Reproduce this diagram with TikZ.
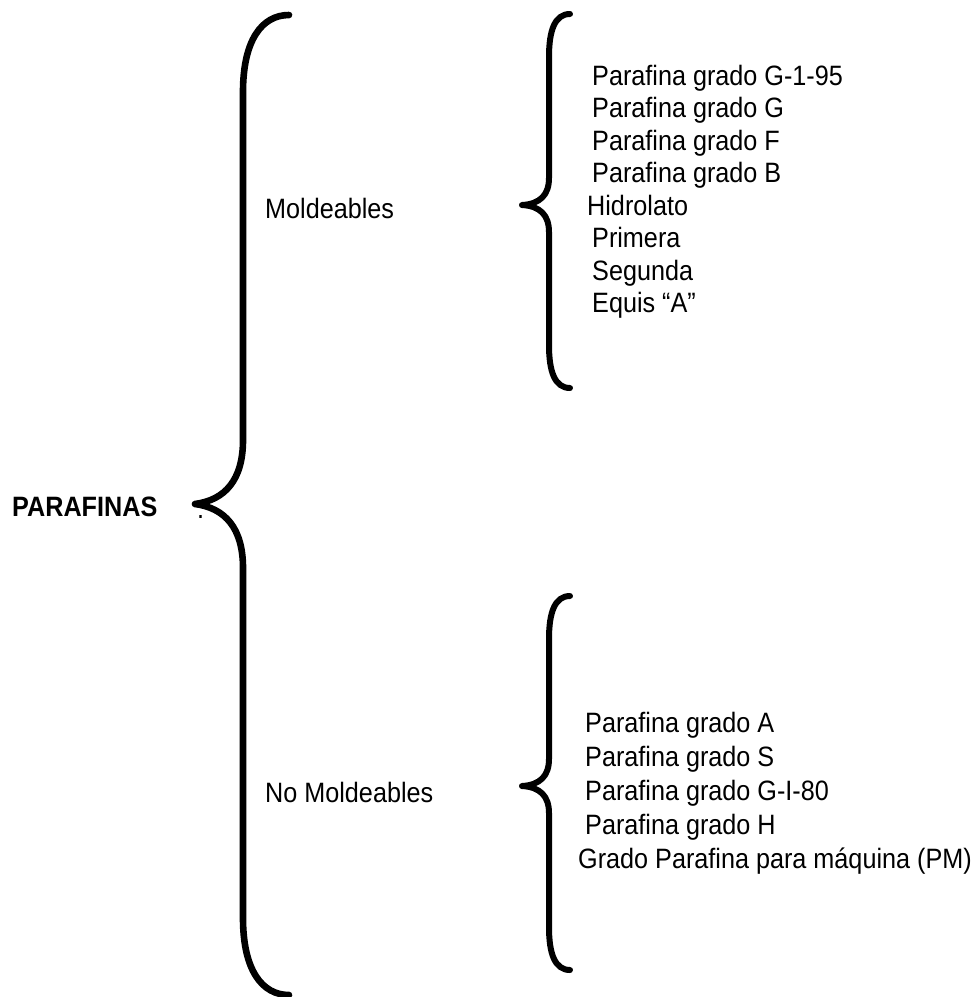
\documentclass[tikz,border=0pt]{standalone}
\usepackage{fontspec}
\setmainfont{Liberation Sans}[FakeStretch=0.9]
\begin{document}
\begin{tikzpicture}[x=1pt,y=-1pt,
  bigbrace/.style={line width=6.6pt,line cap=round,line join=round},
  smallbrace/.style={line width=6pt,line cap=round,line join=round},
  item/.style={anchor=base west,inner sep=0pt,font=\fontsize{28}{33}\selectfont},
  title/.style={item,font=\fontsize{28}{33}\selectfont\bfseries}]
\useasboundingbox (0,0) rectangle (980,997);

% main brace
\draw[bigbrace] (289,15) .. controls (262,15) and (243,40) .. (243,92)
  -- (243,440) .. controls (243,480) and (225,500) .. (195,504)
  .. controls (225,508) and (243,528) .. (243,568)
  -- (243,918) .. controls (243,970) and (262,995) .. (289,995);

% upper sub-brace
\draw[smallbrace] (570,14) .. controls (555,14) and (549,30) .. (549,57)
  -- (549,178) .. controls (549,195) and (540,204) .. (522,205)
  .. controls (540,206) and (549,215) .. (549,232)
  -- (549,345) .. controls (549,372) and (555,388) .. (570,388);

% lower sub-brace
\draw[smallbrace] (570,596) .. controls (555,596) and (549,612) .. (549,639)
  -- (549,759) .. controls (549,776) and (540,785) .. (522,786)
  .. controls (540,787) and (549,796) .. (549,813)
  -- (549,927) .. controls (549,954) and (555,970) .. (570,970);

\node[title] (root) at (12,516) {PARAFINAS};
\node[item] (dot) at (197,518) {.};

\node[item] (mold) at (265,218) {Moldeables};
\node[item] (nomold) at (265,802) {No Moldeables};

% moldeables
\node[item] (m1) at (592,85) {Parafina grado G-1-95};
\node[item] (m2) at (592,117.5) {Parafina grado G};
\node[item] (m3) at (592,150) {Parafina grado F};
\node[item] (m4) at (592,182.5) {Parafina grado B};
\node[item] (m5) at (587,215) {Hidrolato};
\node[item] (m6) at (592,247.5) {Primera};
\node[item] (m7) at (592,280) {Segunda};
\node[item] (m8) at (592,312.5) {Equis “A”};

% no moldeables
\node[item] (n1) at (585,732) {Parafina grado A};
\node[item] (n2) at (585,766) {Parafina grado S};
\node[item] (n3) at (585,800) {Parafina grado G-I-80};
\node[item] (n4) at (585,834) {Parafina grado H};
\node[item] (n5) at (578,868) {Grado Parafina para máquina (PM)};
\end{tikzpicture}
\end{document}
